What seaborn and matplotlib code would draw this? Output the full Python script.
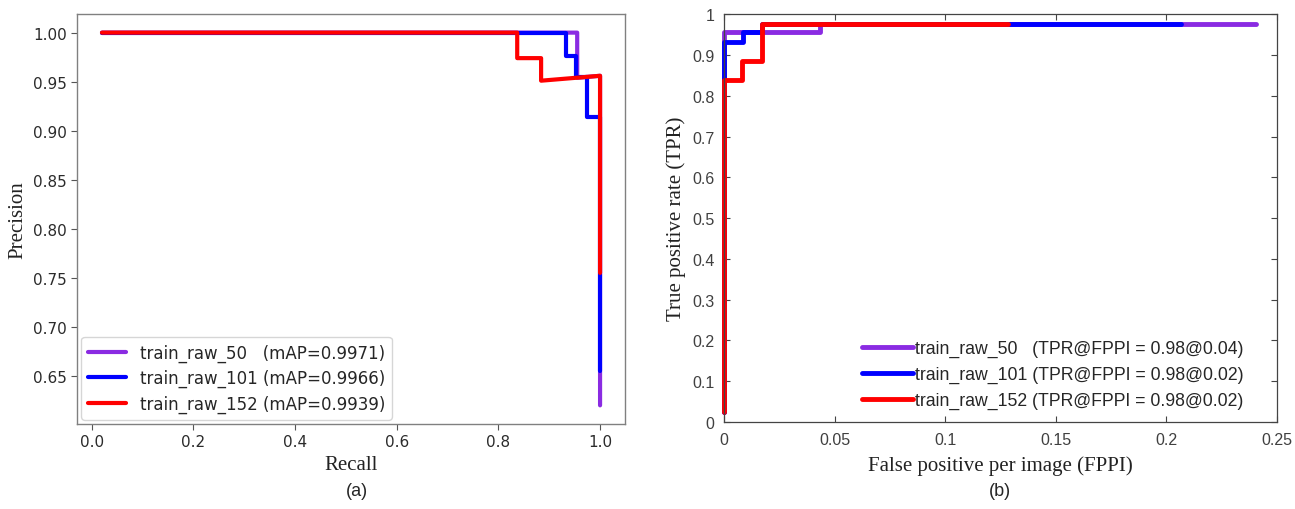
import numpy as np
import pandas as pd
import matplotlib
matplotlib.use("Agg")
import matplotlib.pyplot as plt
import seaborn as sns

# ── data ───────────────────────────────────────────────────
PR_LABELS = ["train_raw_50   (mAP=0.9971)",
             "train_raw_101 (mAP=0.9966)",
             "train_raw_152 (mAP=0.9939)"]
recall_50 = [0.02, 0.955, 0.955, 1.0, 1.0]
prec_50 = [1.0, 1.0, 0.954, 0.956, 0.62]
recall_101 = [0.02, 0.933, 0.933, 0.953, 0.953, 0.975, 0.975, 1.0, 1.0]
prec_101 = [1.0, 1.0, 0.976, 0.976, 0.955, 0.955, 0.914, 0.914, 0.655]
recall_152 = [0.02, 0.837, 0.837, 0.884, 0.884, 1.0, 1.0]
prec_152 = [1.0, 1.0, 0.974, 0.974, 0.951, 0.956, 0.755]

ROC_LABELS = ["train_raw_50   (TPR@FPPI = 0.98@0.04)",
              "train_raw_101 (TPR@FPPI = 0.98@0.02)",
              "train_raw_152 (TPR@FPPI = 0.98@0.02)"]
fppi_50 = [0.0, 0.0, 0.0432, 0.0432, 0.2405]
tpr_50 = [0.025, 0.956, 0.956, 0.976, 0.976]
fppi_101 = [0.0, 0.0, 0.0086, 0.0086, 0.0173, 0.0173, 0.2064]
tpr_101 = [0.025, 0.931, 0.931, 0.956, 0.956, 0.976, 0.976]
fppi_152 = [0.0, 0.0, 0.0082, 0.0082, 0.0173, 0.0173, 0.1286]
tpr_152 = [0.025, 0.84, 0.84, 0.885, 0.885, 0.976, 0.976]

COLORS = ["#8A2BE2", "#0000FF", "#FF0000"]


def long_df(xs, ys, labels, xname, yname):
    parts = []
    for x, y, lab in zip(xs, ys, labels):
        parts.append(pd.DataFrame({xname: x, yname: y, "model": lab}))
    return pd.concat(parts, ignore_index=True)


pr_df = long_df([recall_50, recall_101, recall_152],
                [prec_50, prec_101, prec_152], PR_LABELS, "recall", "precision")
roc_df = long_df([fppi_50, fppi_101, fppi_152],
                 [tpr_50, tpr_101, tpr_152], ROC_LABELS, "fppi", "tpr")

sns.set_theme(style="white")
plt.rcParams["font.family"] = ["DejaVu Sans"]

fig = plt.figure(figsize=(12.95, 5.10), dpi=100)
ax1 = fig.add_axes([0.0595, 0.1667, 0.4231, 0.8039])
ax2 = fig.add_axes([0.5591, 0.1706, 0.4270, 0.7994])

# ── (a) precision-recall ───────────────────────────────────
sns.lineplot(data=pr_df, x="recall", y="precision", hue="model",
             palette=dict(zip(PR_LABELS, COLORS)), sort=False,
             estimator=None, lw=3, ax=ax1)
ax1.margins(x=0.05, y=0.05)
ax1.set_yticks(np.arange(0.65, 1.001, 0.05))
ax1.set_xticks(np.arange(0, 1.01, 0.2))
ax1.yaxis.set_major_formatter(matplotlib.ticker.FormatStrFormatter("%.2f"))
ax1.xaxis.set_major_formatter(matplotlib.ticker.FormatStrFormatter("%.1f"))
ax1.tick_params(axis="both", direction="out", length=4, width=0.8,
                color="#555555", labelsize=11, labelcolor="#2b2b2b",
                bottom=True, left=True)
for s in ax1.spines.values():
    s.set_color("#808080")
    s.set_linewidth(1.0)
ax1.set_xlabel("Recall", family="Liberation Serif", fontsize=15, color="#222222")
ax1.set_ylabel("Precision", family="Liberation Serif", fontsize=15, color="#222222")
sns.move_legend(ax1, "lower left", title=None, fontsize=12,
                handlelength=2.3, borderaxespad=0.25, frameon=True,
                labelspacing=0.45)

# ── (b) TPR vs FPPI ────────────────────────────────────────
sns.lineplot(data=roc_df, x="fppi", y="tpr", hue="model",
             palette=dict(zip(ROC_LABELS, COLORS)), sort=False,
             estimator=None, lw=3.5, ax=ax2)
for ln in ax2.get_lines():
    ln.set_clip_on(False)
ax2.set_xlim(0, 0.25)
ax2.set_ylim(0, 1)
ax2.set_xticks(np.arange(0, 0.251, 0.05))
ax2.set_yticks(np.arange(0, 1.01, 0.1))
ax2.xaxis.set_major_formatter(matplotlib.ticker.FormatStrFormatter("%g"))
ax2.yaxis.set_major_formatter(matplotlib.ticker.FormatStrFormatter("%g"))
ax2.tick_params(axis="both", direction="in", length=4, width=0.8,
                color="#444444", labelsize=11.5, labelcolor="#404040",
                bottom=True, left=True, top=True, right=True, pad=7)
for lab in ax2.get_xticklabels() + ax2.get_yticklabels():
    lab.set_family("Liberation Sans")
for s in ax2.spines.values():
    s.set_color("#444444")
    s.set_linewidth(0.9)
ax2.set_xlabel("False positive per image (FPPI)", family="Liberation Serif",
               fontsize=15, color="#222222", labelpad=6)
ax2.set_ylabel("True positive rate (TPR)", family="Liberation Serif",
               fontsize=15, color="#222222")
sns.move_legend(ax2, "lower right", title=None, frameon=False,
                prop={"family": "Liberation Sans", "size": 12.7},
                handlelength=2.9, handletextpad=0.1, labelspacing=0.5,
                bbox_to_anchor=(0.968, -0.008))

fig.text(357 / 1295, 1 - 492 / 510, "(a)", family="Liberation Sans",
         fontsize=13, ha="center", va="center")
fig.text(1000 / 1295, 1 - 492 / 510, "(b)", family="Liberation Sans",
         fontsize=13, ha="center", va="center")

fig.savefig("out.png", dpi=100)
